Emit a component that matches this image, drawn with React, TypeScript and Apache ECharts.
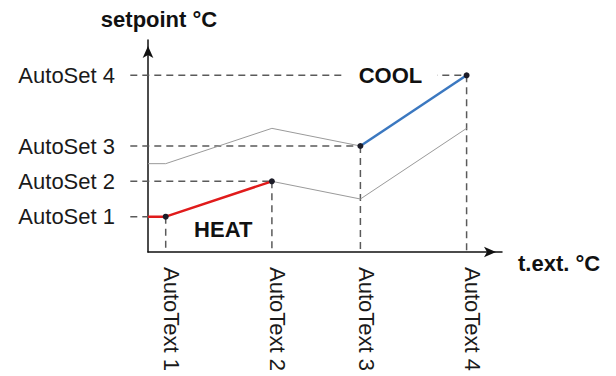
import React, { useEffect, useRef } from "react";
import * as echarts from "echarts";

// Categories along the outdoor-temperature axis and their positions
const xCategories = ["AutoText 1", "AutoText 2", "AutoText 3", "AutoText 4"];
const xPositions = [1, 7, 12, 18];
// Setpoint labels and their values
const ySetLabels = ["AutoSet 1", "AutoSet 2", "AutoSet 3", "AutoSet 4"];
const ySetValues = [2, 4, 6, 10];
// Curves
const heatLine = [[0, 2], [1, 2], [7, 4]];
const coolLine = [[12, 6], [18, 10]];
const upperBand = [[0, 5], [1, 5], [7, 7], [12, 6]];
const lowerBand = [[7, 4], [12, 3], [18, 7]];
// Names and annotations
const xAxisName = "t.ext. °C";
const yAxisName = "setpoint °C";
const modeLabels = ["HEAT", "COOL"];
const modePositions = [[4.25, 1.3], [13.7, 10]];

const FONT = "'Liberation Sans', Arial, sans-serif";

export default function App() {
  const ref = useRef<HTMLDivElement>(null);
  useEffect(() => {
    if (!ref.current) return;
    const chart = echarts.init(ref.current, null, { renderer: "svg" });
    const dashStyle = { color: "#5a5a5a", width: 1.5, type: [7, 5] as any };
    const guideSeries: any[] = [];
    ySetValues.forEach((v, i) => {
      guideSeries.push({
        type: "line",
        xAxisIndex: 1,
        yAxisIndex: 1,
        data: [[-1, v], [xPositions[i], v]],
        showSymbol: false,
        silent: true,
        z: 1,
        lineStyle: dashStyle,
      });
      guideSeries.push({
        type: "line",
        xAxisIndex: 1,
        yAxisIndex: 1,
        data: [[xPositions[i], v], [xPositions[i], 0]],
        showSymbol: false,
        silent: true,
        z: 1,
        lineStyle: dashStyle,
      });
    });
    const hiddenAxis = {
      show: false,
      axisLine: { show: false },
      axisTick: { show: false },
      axisLabel: { show: false },
      splitLine: { show: false },
    };
    const option: any = {
      animation: false,
      backgroundColor: "#ffffff",
      grid: [
        { left: 148, right: 114, top: 40, bottom: 124 },
        { left: 130.3, right: 114, top: 40, bottom: 124 },
      ],
      xAxis: [
        {
          type: "value",
          gridIndex: 0,
          min: 0,
          max: 20,
          name: xAxisName,
          nameLocation: "end",
          nameGap: 16,
          nameTextStyle: {
            fontFamily: FONT,
            fontSize: 22,
            fontWeight: "bold",
            color: "#111",
            align: "left",
            verticalAlign: "top",
          },
          axisLine: {
            show: true,
            symbol: ["none", "arrow"],
            symbolSize: [8, 12],
            symbolOffset: [0, -6],
            lineStyle: { color: "#111", width: 1.5 },
          },
          axisTick: { show: false },
          splitLine: { show: false },
          axisLabel: {
            customValues: xPositions,
            rotate: -90,
            margin: 15,
            verticalAlign: "bottom",
            lineHeight: 12,
            fontFamily: FONT,
            fontSize: 22,
            color: "#1a1a1a",
            formatter: (val: number) => {
              const i = xPositions.indexOf(val);
              return i >= 0 ? xCategories[i] : "";
            },
          },
        },
        { type: "value", gridIndex: 1, min: -1, max: 20, ...hiddenAxis },
      ],
      yAxis: [
        {
          type: "value",
          gridIndex: 0,
          min: 0,
          max: 12,
          name: yAxisName,
          nameLocation: "end",
          nameGap: 10,
          nameTextStyle: {
            fontFamily: FONT,
            fontSize: 22,
            fontWeight: "bold",
            color: "#111",
            align: "center",
            padding: [0, 0, 0, 22],
          },
          axisLine: {
            show: true,
            symbol: ["none", "arrow"],
            symbolSize: [8, 12],
            symbolOffset: [0, -6],
            lineStyle: { color: "#111", width: 1.5 },
          },
          axisTick: { show: false },
          splitLine: { show: false },
          axisLabel: {
            customValues: ySetValues,
            margin: 33,
            fontFamily: FONT,
            fontSize: 22,
            color: "#1a1a1a",
            formatter: (val: number) => {
              const i = ySetValues.indexOf(val);
              return i >= 0 ? ySetLabels[i] : "";
            },
          },
        },
        { type: "value", gridIndex: 1, min: 0, max: 12, ...hiddenAxis },
      ],
      series: [
        ...guideSeries,
        {
          type: "line",
          data: upperBand,
          showSymbol: false,
          silent: true,
          z: 2,
          lineStyle: { color: "#9a9a9a", width: 1 },
        },
        {
          type: "line",
          data: lowerBand,
          showSymbol: false,
          silent: true,
          z: 2,
          lineStyle: { color: "#9a9a9a", width: 1 },
        },
        {
          type: "line",
          data: heatLine,
          showSymbol: false,
          silent: true,
          z: 3,
          lineStyle: { color: "#e01b1b", width: 2.5 },
        },
        {
          type: "line",
          data: coolLine,
          showSymbol: false,
          silent: true,
          z: 3,
          lineStyle: { color: "#3b78c0", width: 2.5 },
        },
        {
          type: "scatter",
          data: xPositions.map((x, i) => [x, ySetValues[i]]),
          symbolSize: 6,
          silent: true,
          z: 4,
          itemStyle: { color: "#1c1c28", opacity: 1 },
        },
        {
          type: "scatter",
          data: modeLabels.map((n, i) => ({ name: n, value: modePositions[i] })),
          symbolSize: 1,
          silent: true,
          z: 5,
          itemStyle: { color: "rgba(0,0,0,0)", opacity: 1 },
          label: {
            show: true,
            position: "inside",
            formatter: "{b}",
            fontFamily: FONT,
            fontSize: 22,
            fontWeight: "bold",
            color: "#111",
            backgroundColor: "#ffffff",
            padding: [2, 15],
          },
        },
      ],
    };
    chart.setOption(option);
    return () => chart.dispose();
  }, []);
  return (
    <div
      ref={ref}
      style={{ position: "fixed", left: 0, top: 0, width: 616, height: 376, background: "#fff" }}
    />
  );
}
